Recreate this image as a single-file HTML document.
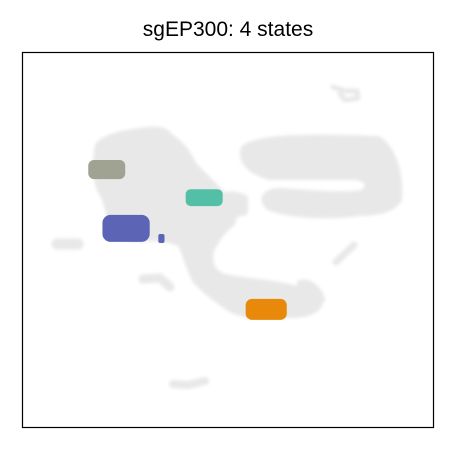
<!DOCTYPE html>
<html><head><meta charset="utf-8">
<style>
html,body{margin:0;padding:0;background:#fff;}
svg{display:block;font-family:"Liberation Sans",Arial,sans-serif;}
</style></head>
<body>
<svg id="chart" width="450" height="450" viewBox="0 0 450 450">
<defs><filter id="soft" x="-10%" y="-10%" width="120%" height="120%"><feGaussianBlur stdDeviation="1.5"/></filter></defs>
<rect x="0" y="0" width="450" height="450" fill="#fff"/>
<text x="228" y="36" text-anchor="middle" font-size="21" fill="#000">sgEP300: 4 states</text>
<g id="bg" fill="#e8e8e8" stroke="#e8e8e8" stroke-linecap="round" stroke-linejoin="round" filter="url(#soft)">
  <path d="M97,145 C105,135 125,132 140,130 C150,128 165,127 170,135 C185,145 190,155 195,165 C205,175 215,185 225,195 C235,205 238,215 232,225 C222,232 218,240 212,250 C210,262 212,270 222,275 C240,280 260,280 285,285 C300,288 315,295 320,305 C315,315 300,316 285,316 C265,318 245,318 230,310 C215,300 205,292 195,282 C188,270 185,255 180,245 C170,240 155,238 140,240 C125,240 115,235 110,225 C108,210 105,200 100,192 C94,180 94,160 97,145 Z" stroke-width="4"/>
  <path d="M300,283 C310,280 320,290 322,300 C318,306 305,305 300,300 Z" stroke-width="6"/>
  <path d="M215,200 C225,193 235,193 245,198 L245,212 C235,216 222,214 215,210 Z" stroke-width="6"/>
  <path d="M243,148 C255,134 330,136 378,138 C395,148 402,175 400,200 C392,212 375,214 360,214 C330,218 290,217 268,208 C258,198 266,190 280,190 C310,192 345,195 362,192 C370,186 368,180 356,178 C320,178 290,178 270,178 C252,174 238,162 243,148 Z" stroke-width="4"/>
  <line x1="57" y1="244" x2="78" y2="244" stroke-width="11"/>
  <path d="M143,279 L160,278 L170,287" fill="none" stroke-width="9"/>
  <path d="M173,384 L188,385 L205,381" fill="none" stroke-width="8"/>
  <path d="M333,87 L345,91 L357,91 L358,98 L345,100 L340,94" fill="none" stroke-width="5"/>
  <line x1="336" y1="262" x2="354" y2="245" stroke-width="7"/>
</g>
<g id="states"></g>
<rect x="22.5" y="52.5" width="411" height="375" fill="none" stroke="#000" stroke-width="1.2"/>
</svg>
<script>
// state cluster data (UMAP coordinates, 0-100 scale)
const stateNames = ["state-gray-green","state-teal","state-blue","state-blue-small","state-orange"];
const stateX = [20.5, 44.2, 25.2, 33.8, 59.3];
const stateY = [68.8, 61.3, 53.1, 50.4, 31.5];
const stateW = [9.0, 9.0, 11.5, 1.5, 10.0];
const stateH = [5.1, 4.5, 7.2, 2.4, 5.6];
const stateColors = ["#a0a392","#52bfa6","#5b64b5","#5b64b5","#e8890c"];
const x0=22.5,x1=433.5,y0=427.5,y1=52.5;
const sx=v=>x0+(x1-x0)*v/100;
const sy=v=>y0-(y0-y1)*v/100;
const sw=v=>(x1-x0)*v/100;
const sh=v=>(y0-y1)*v/100;
const g=document.getElementById('states');
const NS="http://www.w3.org/2000/svg";
for(let i=0;i<stateX.length;i++){
  const w=sw(stateW[i]),h=sh(stateH[i]);
  const r=document.createElementNS(NS,'rect');
  r.setAttribute('x',sx(stateX[i])-w/2);
  r.setAttribute('y',sy(stateY[i])-h/2);
  r.setAttribute('width',w);
  r.setAttribute('height',h);
  r.setAttribute('rx',Math.min(w,h)*0.3);
  r.setAttribute('fill',stateColors[i]);
  
  
  g.appendChild(r);
}
</script>
</body></html>
